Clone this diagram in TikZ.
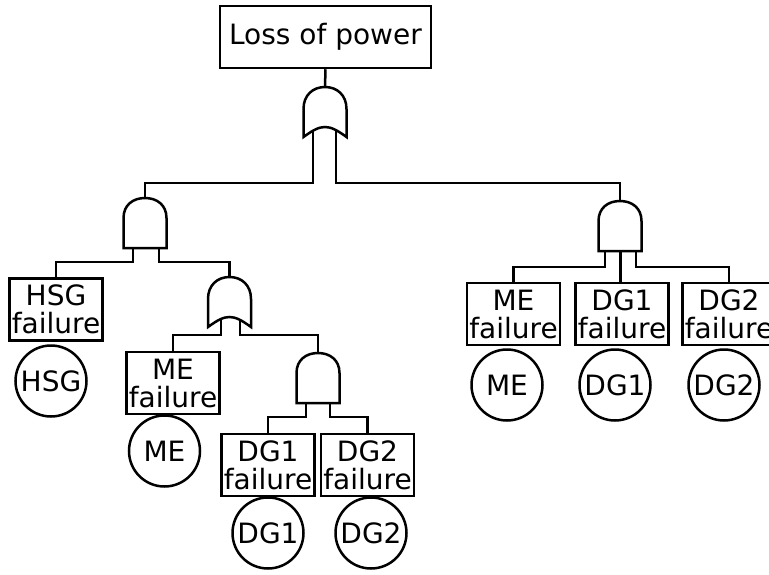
\documentclass[tikz,border=0pt]{standalone}
\usepackage{fontspec}
\setmainfont{DejaVu Sans}
\begin{document}
\begin{tikzpicture}[x=1pt,y=-1pt, line width=2.5pt,
  ev/.style={draw, fill=white, minimum width=93pt, minimum height=62pt, inner sep=0pt, align=center, font=\fontsize{28}{28}\selectfont},
  be/.style={draw, fill=white, circle, minimum size=71pt, inner sep=0pt, font=\fontsize{28}{28}\selectfont},
  andgate/.pic={\draw[fill=white] (-21.5,50) -- (-21.5,20) .. controls (-21.5,7) and (-12,0) .. (0,0) .. controls (12,0) and (21.5,7) .. (21.5,20) -- (21.5,50) -- cycle;},
  orgate/.pic={\draw[fill=white] (-21.5,50) -- (-21.5,22) .. controls (-21.5,8) and (-12,0) .. (0,0) .. controls (12,0) and (21.5,8) .. (21.5,22) -- (21.5,50) .. controls (12,43) and (6,40) .. (0,40) .. controls (-6,40) and (-12,43) .. (-21.5,50) -- cycle;}]
\useasboundingbox (0,0) rectangle (769,574);

% event boxes
\node[ev, minimum width=211pt] (top) at (325.5,37) {Loss of power};
\node[ev] (hsgf) at (56,309.5) {HSG\\failure};
\node[ev] (mef1) at (173,383) {ME\\failure};
\node[ev] (dgaf1) at (268,465) {DG1\\failure};
\node[ev] (dgbf1) at (367.5,465) {DG2\\failure};
\node[ev] (mef2) at (513.5,314) {ME\\failure};
\node[ev] (dgaf2) at (622,314) {DG1\\failure};
\node[ev] (dgbf2) at (729,314) {DG2\\failure};

% gate anchors
\coordinate (g1) at (325,87);
\coordinate (g1l) at (313,120);
\coordinate (g1r) at (336,120);
\coordinate (g2) at (145,198);
\coordinate (g2l) at (133,230);
\coordinate (g2r) at (159,230);
\coordinate (g3) at (229.5,277);
\coordinate (g3l) at (221,305);
\coordinate (g3r) at (240,305);
\coordinate (g4) at (318,353);
\coordinate (g4l) at (306,385);
\coordinate (g4r) at (330,385);
\coordinate (g5) at (620,201);
\coordinate (g5l) at (605,230);
\coordinate (g5m) at (620.5,230);
\coordinate (g5r) at (636,230);

% connectors
\draw (top.south) -- (g1);
\draw (g1l) -- ++(0,63) -| (g2);
\draw (g1r) -- ++(0,63) -| (g5);
\draw (g2l) -- ++(0,32) -| (hsgf.north);
\draw (g2r) -- ++(0,32) -| (g3);
\draw (g3l) -- ++(0,30) -| (mef1.north);
\draw (g3r) -- ++(0,30) -| (g4);
\draw (g4l) -- ++(0,32) -| (dgaf1.north);
\draw (g4r) -- ++(0,32) -| (dgbf1.north);
\draw (g5l) -- ++(0,37) -| (mef2.north);
\draw (g5m) -- (g5m |- dgaf2.north);
\draw (g5r) -- ++(0,37) -| (dgbf2.north);

% gates
\pic at (g1) {orgate};
\pic at (g2) {andgate};
\pic at (g3) {orgate};
\pic at (g4) {andgate};
\pic at (g5) {andgate};

% basic events
\node[be] (hsg) at (51,381) {HSG};
\node[be] (mea) at (164.5,451) {ME};
\node[be] (dgaa) at (268,533) {DG1};
\node[be] (dgba) at (371,533) {DG2};
\node[be] (meb) at (507,385) {ME};
\node[be] (dgab) at (615,385) {DG1};
\node[be] (dgbb) at (724,385) {DG2};
\end{tikzpicture}
\end{document}
